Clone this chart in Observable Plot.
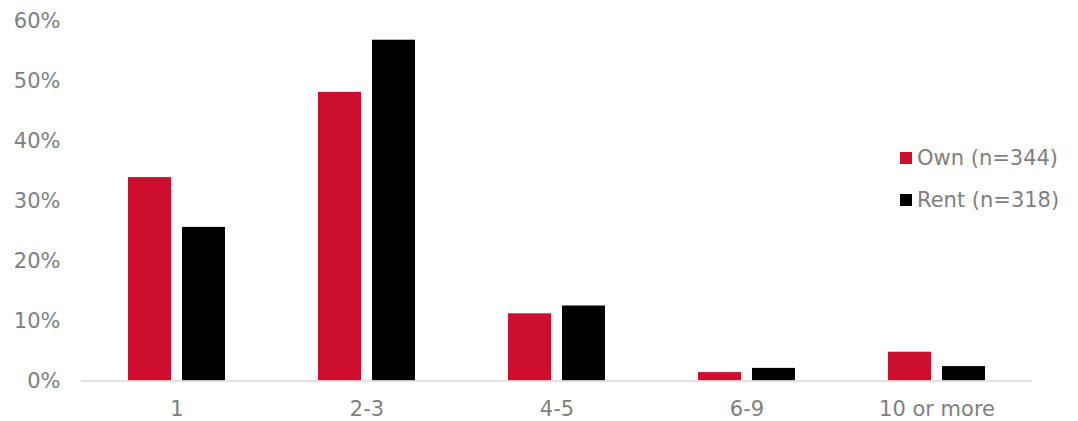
<!DOCTYPE html>
<html>
<head>
<meta charset="utf-8">
<script src="https://cdn.jsdelivr.net/npm/d3@7"></script>
<script src="https://cdn.jsdelivr.net/npm/@observablehq/plot@0.6"></script>
<style>
  html, body { margin: 0; padding: 0; background: #fff; }
  #chart { position: relative; width: 1078px; height: 421px; font-family: "DejaVu Sans", Verdana, sans-serif; }
  #legend { position: absolute; left: 900px; top: 137px; color: #7f7f7f; font-size: 21px; line-height: 42px; }
  #legend .item { display: flex; align-items: center; white-space: nowrap; }
  #legend .sw { width: 12px; height: 12px; margin-right: 5px; }
</style>
</head>
<body>
<div id="chart"></div>
<script>
// Household size by tenure (share of respondents)
const categories = ["1", "2-3", "4-5", "6-9", "10 or more"];
const seriesNames = ["Own (n=344)", "Rent (n=318)"];
const seriesColors = ["#cd0e2e", "#000000"];
const ownValues = [0.339, 0.481, 0.112, 0.014, 0.048];
const rentValues = [0.256, 0.568, 0.125, 0.021, 0.024];
const yTicks = [0, 0.1, 0.2, 0.3, 0.4, 0.5, 0.6];
const yTickLabels = ["0%", "10%", "20%", "30%", "40%", "50%", "60%"];

const own = categories.map((c, i) => ({category: c, value: ownValues[i]}));
const rent = categories.map((c, i) => ({category: c, value: rentValues[i]}));

const chart = Plot.plot({
  width: 1078,
  height: 421,
  marginLeft: 81,
  marginRight: 46,
  marginTop: 20.5,
  marginBottom: 40.5,
  style: {fontFamily: "'DejaVu Sans', Verdana, sans-serif", fontSize: "21px", color: "#7f7f7f", background: "#fff"},
  x: {domain: categories, paddingInner: 0.492, paddingOuter: 0.246, label: null},
  y: {domain: [0, 0.6], label: null},
  marks: [
    Plot.axisY({ticks: yTicks, tickFormat: (d) => yTickLabels[yTicks.indexOf(d)], tickSize: 0, tickPadding: 21, fill: "#7f7f7f", fontSize: 21, label: null}),
    Plot.axisX({tickSize: 0, tickPadding: 20, fill: "#7f7f7f", fontSize: 21, label: null}),
    // Own bars take the left part of each group, Rent bars the right part
    Plot.barY(own, {x: "category", y: "value", fill: seriesColors[0], insetRight: 54}),
    Plot.barY(rent, {x: "category", y: "value", fill: seriesColors[1], insetLeft: 54}),
    Plot.ruleY([0], {stroke: "#d9d9d9", strokeWidth: 1.5})
  ]
});

const root = document.getElementById("chart");
root.appendChild(chart);

const legend = document.createElement("div");
legend.id = "legend";
seriesNames.forEach((name, i) => {
  const item = document.createElement("div");
  item.className = "item";
  const sw = document.createElement("span");
  sw.className = "sw";
  sw.style.background = seriesColors[i];
  const label = document.createElement("span");
  label.textContent = name;
  item.appendChild(sw);
  item.appendChild(label);
  legend.appendChild(item);
});
root.appendChild(legend);
</script>
</body>
</html>
